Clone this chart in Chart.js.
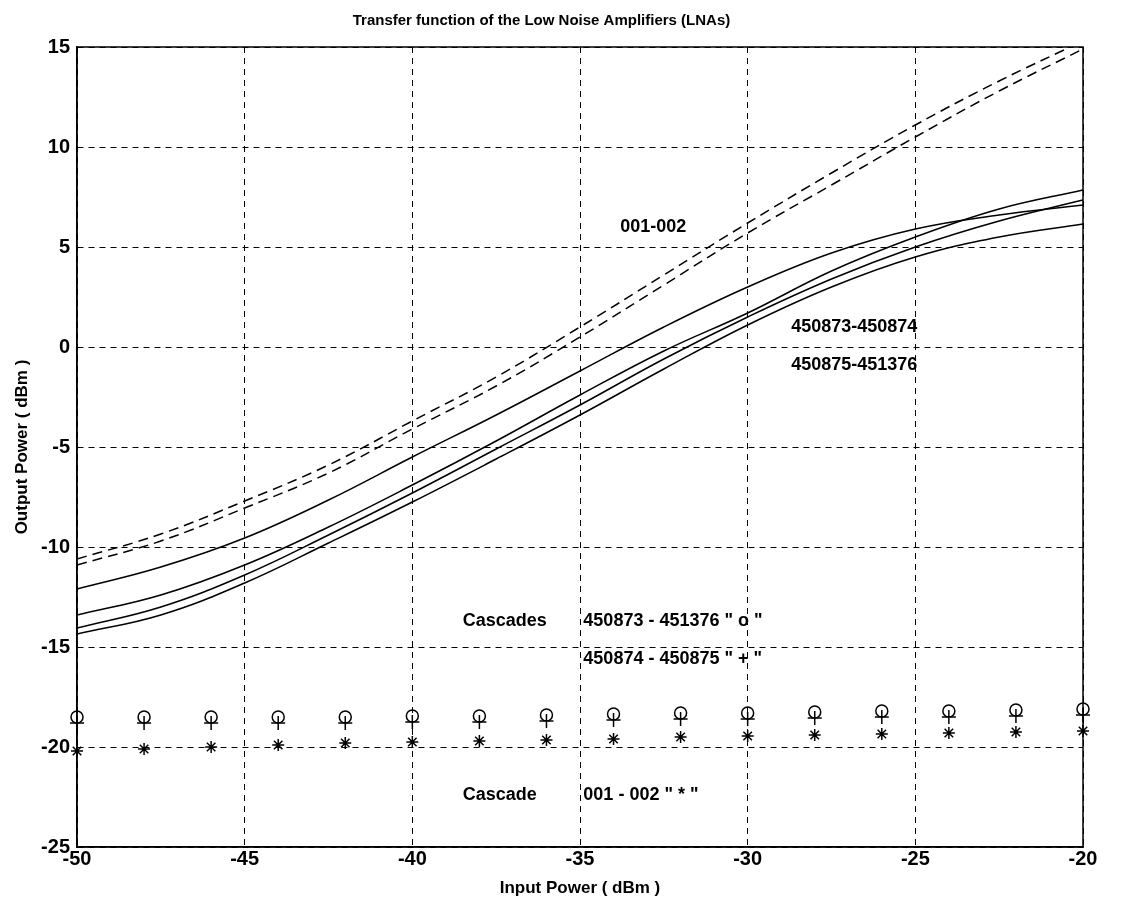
<!DOCTYPE html>
<html>
<head>
<meta charset="utf-8">
<script src="https://cdn.jsdelivr.net/npm/chart.js@4/dist/chart.umd.min.js"></script>
<style>
  body { margin: 0; background: #fff; }
  #wrap { width: 1123px; height: 900px; position: relative; }
</style>
</head>
<body>
<div id="wrap"><canvas id="chartDiv"></canvas></div>
<script>
// input power (dBm) for the curves
const inputPower = [-50, -47.5, -45, -42.5, -40, -37.5, -35, -32.5, -30, -27.5, -25, -22.5, -20];
// 001-002 (dashed pair)
const lna001a = [-10.6, -9.35, -7.7, -5.9, -3.7, -1.5, 1.0, 3.6, 6.2, 8.7, 11.1, 13.3, 15.3];
const lna001b = [-10.9, -9.7, -8.05, -6.3, -4.1, -1.95, 0.5, 3.1, 5.7, 8.1, 10.5, 12.8, 14.9];
// 450873 .. 451376 (solid)
const lna450873 = [-12.1, -11.0, -9.55, -7.65, -5.5, -3.4, -1.2, 1.0, 3.0, 4.7, 5.9, 6.6, 7.1];
const lna450874 = [-13.4, -12.4, -10.9, -9.0, -6.9, -4.7, -2.4, -0.2, 1.7, 3.8, 5.5, 6.9, 7.85];
const lna450875 = [-14.05, -13.0, -11.4, -9.4, -7.3, -5.1, -2.9, -0.6, 1.5, 3.4, 5.0, 6.3, 7.35];
const lna451376 = [-14.35, -13.4, -11.8, -9.8, -7.75, -5.6, -3.4, -1.1, 1.1, 3.0, 4.5, 5.5, 6.15];

// cascades (markers)
const cascadeIn = [-50, -48, -46, -44, -42, -40, -38, -36, -34, -32, -30, -28, -26, -24, -22, -20];
const cascadeO = [-18.5, -18.5, -18.5, -18.5, -18.5, -18.45, -18.45, -18.4, -18.35, -18.3, -18.3, -18.25, -18.2, -18.2, -18.15, -18.1];
const cascadePlus = [-18.8, -18.8, -18.8, -18.8, -18.8, -18.75, -18.75, -18.7, -18.65, -18.6, -18.6, -18.55, -18.5, -18.5, -18.45, -18.4];
const cascadeStar = [-20.2, -20.1, -20.0, -19.9, -19.8, -19.75, -19.7, -19.65, -19.6, -19.5, -19.45, -19.4, -19.35, -19.3, -19.25, -19.2];

const xTicks = [-50, -45, -40, -35, -30, -25, -20];
const yTicks = [15, 10, 5, 0, -5, -10, -15, -20, -25];

const notes = [
  { text: "001-002", x: -33.8, y: 6.0 },
  { text: "450873-450874", x: -28.7, y: 1.0 },
  { text: "450875-451376", x: -28.7, y: -0.9 },
  { text: "Cascades", x: -38.5, y: -13.7 },
  { text: "450873 - 451376 \" o \"", x: -34.9, y: -13.7 },
  { text: "450874 - 450875 \" + \"", x: -34.9, y: -15.6 },
  { text: "Cascade", x: -38.5, y: -22.4 },
  { text: "001 - 002 \" * \"", x: -34.9, y: -22.4 },
];

const FONT = "'Liberation Sans', Arial, sans-serif";

const toPts = (xs, ys) => xs.map((x, i) => ({ x: x, y: ys[i] }));

const curve = (data, dashed) => ({
  data: toPts(inputPower, data),
  borderColor: "#000",
  borderWidth: 1.5,
  borderDash: dashed ? [10, 6] : [],
  pointRadius: 0,
  tension: 0.4,
  fill: false,
});

const marks = (data, style, r) => ({
  data: toPts(cascadeIn, data),
  showLine: false,
  pointStyle: style,
  pointRadius: r,
  pointBorderColor: "#000",
  pointBackgroundColor: "rgba(0,0,0,0)",
  pointBorderWidth: 1.5,
  clip: false,
});

// frame + text labels in data coordinates
const extras = {
  id: "extras",
  afterDatasetsDraw(chart) {
    const { ctx, chartArea, scales } = chart;
    ctx.save();
    ctx.strokeStyle = "#000";
    ctx.lineWidth = 1.5;
    ctx.strokeRect(chartArea.left, chartArea.top, chartArea.right - chartArea.left, chartArea.bottom - chartArea.top);
    ctx.fillStyle = "#000";
    ctx.font = "bold 18px " + FONT;
    ctx.textBaseline = "middle";
    ctx.textAlign = "left";
    notes.forEach((n) => {
      ctx.fillText(n.text, scales.x.getPixelForValue(n.x), scales.y.getPixelForValue(n.y));
    });
    ctx.restore();
  },
};

const ctx = document.getElementById("chartDiv");
new Chart(ctx, {
  type: "line",
  data: {
    datasets: [
      curve(lna001a, true),
      curve(lna001b, true),
      curve(lna450873, false),
      curve(lna450874, false),
      curve(lna450875, false),
      curve(lna451376, false),
      marks(cascadeO, "circle", 6),
      marks(cascadePlus, "cross", 7),
      marks(cascadeStar, "star", 6),
    ],
  },
  options: {
    responsive: true,
    maintainAspectRatio: false,
    animation: false,
    layout: { padding: { left: 0, right: 40, top: 0, bottom: 0 } },
    plugins: {
      legend: { display: false },
      tooltip: { enabled: false },
      title: {
        display: true,
        text: "Transfer function of the Low Noise Amplifiers (LNAs)",
        color: "#000",
        font: { family: FONT, size: 15, weight: "bold" },
        padding: { top: 12, bottom: 17 },
      },
    },
    scales: {
      x: {
        type: "linear",
        min: -50,
        max: -20,
        afterBuildTicks: (s) => { s.ticks = xTicks.map((v) => ({ value: v })); },
        afterFit: (s) => { s.height = 53; },
        ticks: {
          color: "#000",
          font: { family: FONT, size: 20, weight: "bold" },
          padding: 0,
          maxRotation: 0,
        },
        grid: { color: "#000", lineWidth: 1, drawTicks: false },
        border: { color: "#000", width: 1.5, dash: [6, 5] },
        title: {
          display: true,
          text: "Input Power ( dBm )",
          color: "#000",
          font: { family: FONT, size: 17, weight: "bold" },
          padding: { top: 0, bottom: 1 },
        },
      },
      y: {
        type: "linear",
        min: -25,
        max: 15,
        afterBuildTicks: (s) => { s.ticks = yTicks.map((v) => ({ value: v })); },
        afterFit: (s) => { s.width = 77; },
        ticks: {
          color: "#000",
          font: { family: FONT, size: 20, weight: "bold" },
          padding: 7,
        },
        grid: { color: "#000", lineWidth: 1, drawTicks: false },
        border: { color: "#000", width: 1.5, dash: [6, 5] },
        title: {
          display: true,
          text: "Output Power ( dBm )",
          color: "#000",
          font: { family: FONT, size: 17, weight: "bold" },
          padding: { top: 12, bottom: 4 },
        },
      },
    },
  },
  plugins: [extras],
});
</script>
</body>
</html>
